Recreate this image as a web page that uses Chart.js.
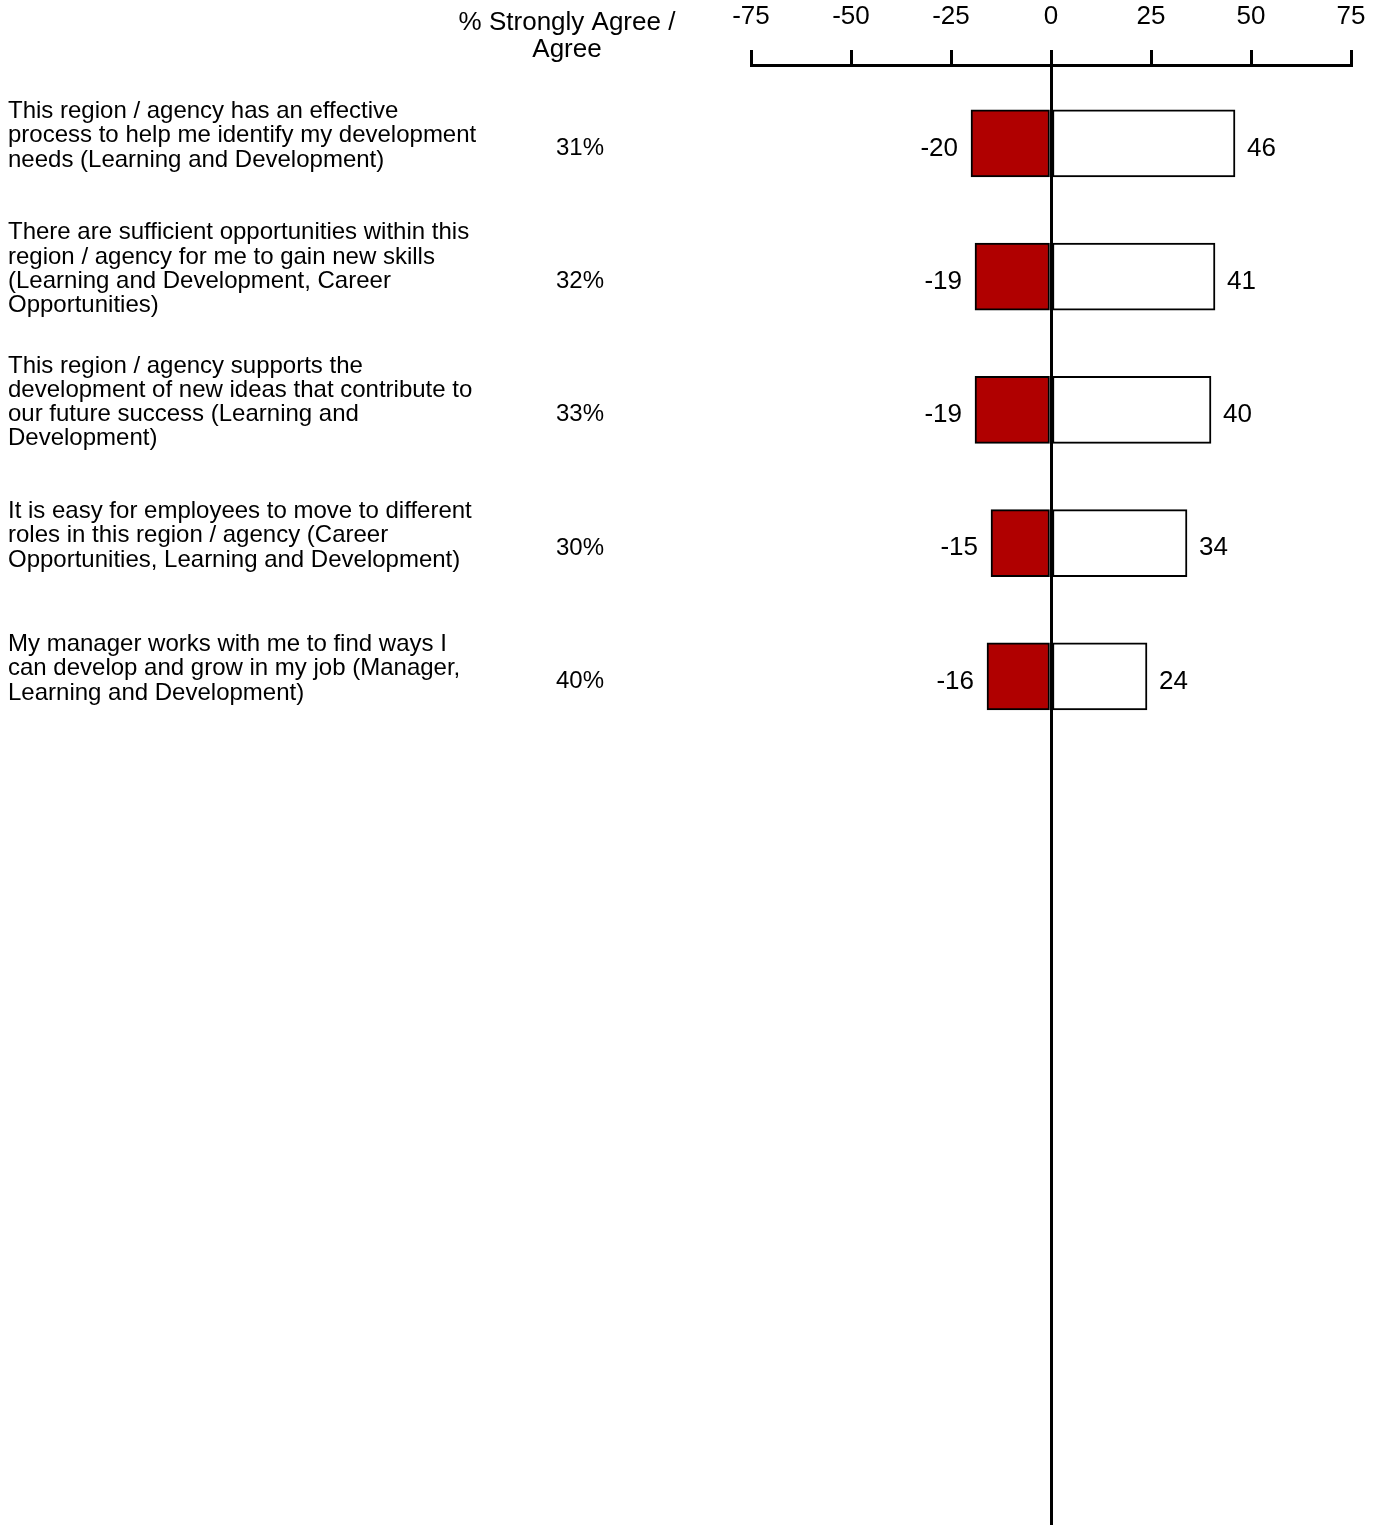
<!DOCTYPE html>
<html>
<head>
<meta charset="utf-8">
<script src="https://cdn.jsdelivr.net/npm/chart.js@4/dist/chart.umd.min.js"></script>
<style>
  html, body { margin: 0; padding: 0; background: #fff; }
  canvas { display: block; }
</style>
</head>
<body>
<canvas id="chart" width="1377" height="1525"></canvas>
<script>
// statements, already wrapped into lines
const statements = [
    ["This region / agency has an effective", "process to help me identify my development", "needs (Learning and Development)"],
    ["There are sufficient opportunities within this", "region / agency for me to gain new skills", "(Learning and Development, Career", "Opportunities)"],
    ["This region / agency supports the", "development of new ideas that contribute to", "our future success (Learning and", "Development)"],
    ["It is easy for employees to move to different", "roles in this region / agency (Career", "Opportunities, Learning and Development)"],
    ["My manager works with me to find ways I", "can develop and grow in my job (Manager,", "Learning and Development)"]
];
const pctAgree = [31, 32, 33, 30, 40];
const unfavourable = [-20, -19, -19, -15, -16];
const favourable = [46, 41, 40, 34, 24];
const xTicks = [-75, -50, -25, 0, 25, 50, 75];

const FONT = '"Liberation Sans", Arial, sans-serif';
const RED = '#b00000';

function rows(values) {
    return values.map((v, i) => ({ x: v, y: i }));
}

// labels, % column and value labels drawn over the bars
const annotations = {
    id: 'annotations',
    afterDatasetsDraw(chart) {
        const ctx = chart.ctx;
        const ys = chart.scales.y;
        ctx.save();
        ctx.fillStyle = '#000';
        ctx.textBaseline = 'middle';

        // column header
        ctx.font = '26px ' + FONT;
        ctx.textAlign = 'center';
        ctx.fillText('% Strongly Agree /', 567, 23);
        ctx.fillText('Agree', 567, 50);

        ctx.font = '24px ' + FONT;
        statements.forEach((lines, i) => {
            const cy = ys.getPixelForValue(i);
            const lh = 24.3;
            const top = cy - 7.5 - (lines.length - 1) * lh / 2;
            ctx.textAlign = 'left';
            lines.forEach((ln, k) => ctx.fillText(ln, 8, top + k * lh));

            ctx.textAlign = 'center';
            ctx.fillText(pctAgree[i] + '%', 580, cy + 5);
        });

        // value labels next to each bar end
        ctx.font = '26px ' + FONT;
        chart.data.datasets.forEach((ds, di) => {
            chart.getDatasetMeta(di).data.forEach((bar, i) => {
                const v = ds.data[i].x;
                const p = bar.getProps(['x', 'base', 'y']);
                if (v < 0) {
                    ctx.textAlign = 'right';
                    ctx.fillText(String(v), Math.min(p.x, p.base) - 13, p.y + 5);
                } else {
                    ctx.textAlign = 'left';
                    ctx.fillText(String(v), Math.max(p.x, p.base) + 12, p.y + 5);
                }
            });
        });
        ctx.restore();
    }
};

new Chart(document.getElementById('chart'), {
    type: 'bar',
    data: {
        datasets: [
            {
                label: 'Unfavourable',
                data: rows(unfavourable),
                backgroundColor: RED,
                borderColor: '#000',
                borderWidth: 2,
                borderSkipped: false,
                barThickness: 67
            },
            {
                label: 'Favourable',
                data: rows(favourable),
                backgroundColor: '#fff',
                borderColor: '#000',
                borderWidth: 2,
                borderSkipped: false,
                barThickness: 67
            }
        ]
    },
    options: {
        indexAxis: 'y',
        responsive: false,
        animation: false,
        layout: { padding: { left: 751, right: 26, top: 0, bottom: 0 } },
        plugins: {
            legend: { display: false },
            tooltip: { enabled: false }
        },
        scales: {
            x: {
                type: 'linear',
                position: 'top',
                stacked: true,
                z: 1, // zero line sits on top of the bars
                min: xTicks[0],
                max: xTicks[xTicks.length - 1],
                afterBuildTicks: (axis) => { axis.ticks = xTicks.map(v => ({ value: v })); },
                afterFit: (axis) => {
                    axis.height = 65;
                    axis.paddingLeft = 0;
                    axis.paddingRight = 0;
                },
                ticks: {
                    color: '#000',
                    font: { family: FONT, size: 26 },
                    padding: 18,
                    maxRotation: 0
                },
                grid: {
                    drawOnChartArea: true,
                    color: (c) => (c.tick && c.tick.value === 0 ? '#000' : 'rgba(0,0,0,0)'),
                    tickColor: '#000',
                    tickLength: 15,
                    lineWidth: 3
                },
                border: { display: true, color: '#000', width: 3 }
            },
            y: {
                type: 'linear',
                display: false,
                stacked: true,
                reverse: true,
                offset: false,
                grid: { offset: false },
                min: -0.588,
                max: 10.369
            }
        }
    },
    plugins: [annotations]
});
</script>
</body>
</html>
